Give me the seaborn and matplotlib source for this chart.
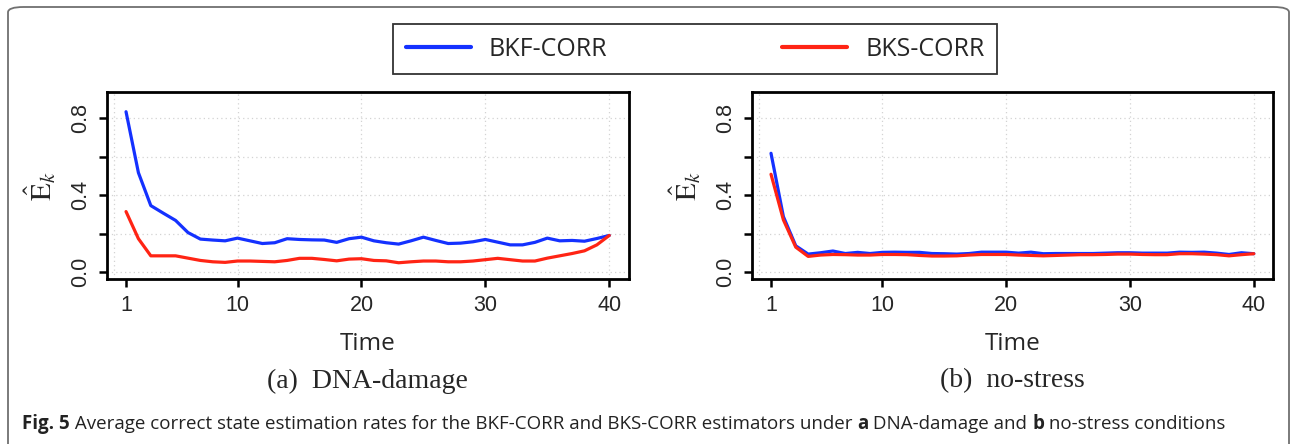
import numpy as np
import pandas as pd
import matplotlib
matplotlib.use("Agg")
import matplotlib.pyplot as plt
from matplotlib.patches import FancyBboxPatch
from matplotlib.lines import Line2D
import seaborn as sns

# --------------------------
# Datos
# --------------------------
time = list(range(1, 41))

dna_bkf = [0.835, 0.518, 0.347, 0.308, 0.270, 0.207, 0.173, 0.168, 0.164, 0.178,
           0.164, 0.150, 0.154, 0.175, 0.171, 0.169, 0.168, 0.156, 0.175, 0.183,
           0.164, 0.154, 0.147, 0.164, 0.183, 0.166, 0.150, 0.152, 0.159, 0.171,
           0.157, 0.143, 0.143, 0.156, 0.178, 0.164, 0.166, 0.162, 0.176, 0.192]
dna_bks = [0.316, 0.175, 0.086, 0.086, 0.086, 0.074, 0.062, 0.055, 0.052, 0.059,
           0.059, 0.057, 0.055, 0.062, 0.073, 0.073, 0.067, 0.060, 0.069, 0.071,
           0.062, 0.060, 0.050, 0.055, 0.059, 0.059, 0.055, 0.055, 0.059, 0.066,
           0.073, 0.066, 0.059, 0.059, 0.074, 0.086, 0.098, 0.112, 0.143, 0.192]

ns_bkf = [0.619, 0.290, 0.138, 0.095, 0.102, 0.111, 0.098, 0.104, 0.098, 0.104,
          0.105, 0.104, 0.104, 0.098, 0.097, 0.095, 0.098, 0.105, 0.105, 0.105,
          0.100, 0.105, 0.097, 0.098, 0.098, 0.098, 0.098, 0.100, 0.102, 0.102,
          0.100, 0.100, 0.100, 0.105, 0.104, 0.105, 0.100, 0.093, 0.102, 0.097]
ns_bks = [0.510, 0.273, 0.131, 0.083, 0.090, 0.093, 0.092, 0.090, 0.090, 0.093,
          0.093, 0.092, 0.088, 0.085, 0.085, 0.086, 0.090, 0.093, 0.093, 0.093,
          0.090, 0.088, 0.086, 0.088, 0.090, 0.092, 0.092, 0.093, 0.095, 0.095,
          0.093, 0.092, 0.092, 0.097, 0.097, 0.095, 0.092, 0.086, 0.092, 0.097]

estimators = ["BKF-CORR", "BKS-CORR"]
colors = {"BKF-CORR": "#1431ff", "BKS-CORR": "#ff2414"}
xticks = [1, 10, 20, 30, 40]
yticks = [0.0, 0.2, 0.4, 0.6, 0.8]
ytick_labels = ["0.0", "", "0.4", "", "0.8"]
subcaptions = ["(a)  DNA-damage", "(b)  no-stress"]


def to_long(bkf, bks):
    return pd.DataFrame({
        "Time": time * 2,
        "E": bkf + bks,
        "Estimador": [estimators[0]] * len(time) + [estimators[1]] * len(time),
    })


sns.set_style("white")
plt.rcParams["font.family"] = ["Liberation Sans", "DejaVu Sans"]
plt.rcParams["mathtext.fontset"] = "stix"

W, H = 1294, 444
fig = plt.figure(figsize=(W / 100, H / 100), dpi=100)


def fx(px):
    return px / W


def fy(py):
    return 1 - py / H


# marco redondeado de la figura
frame = FancyBboxPatch((fx(8), fy(470)), fx(1289) - fx(8), fy(7) - fy(470),
                       boxstyle="round,pad=0,rounding_size=0.012",
                       transform=fig.transFigure, fill=False,
                       edgecolor="#707070", linewidth=1.3, clip_on=False)
fig.patches.append(frame)

panels = [
    (to_long(dna_bkf, dna_bks), 106.7, 628.6),
    (to_long(ns_bkf, ns_bks), 751.7, 1273.1),
]

for (df, x0, x1), sub in zip(panels, subcaptions):
    ax = fig.add_axes([fx(x0), fy(279.3), fx(x1) - fx(x0), fy(92.3) - fy(279.3)])
    # grid punteada estilo R
    for gx in [0, 10, 20, 30, 40]:
        ax.axvline(gx, color="#d3d3d3", lw=0.9, ls=(0, (1, 2.5)), zorder=0)
    for gy in yticks:
        ax.axhline(gy, color="#d3d3d3", lw=0.9, ls=(0, (1, 2.5)), zorder=0)
    sns.lineplot(data=df, x="Time", y="E", hue="Estimador", palette=colors,
                 linewidth=2.3, legend=False, ax=ax)
    ax.set_xlim(1 - 1.56, 40 + 1.56)
    ax.set_ylim(-0.036, 0.936)
    ax.set_xticks(xticks)
    ax.set_xticklabels([str(t) for t in xticks], fontsize=15.5)
    ax.set_yticks(yticks)
    ax.set_yticklabels(ytick_labels, fontsize=15.5, rotation=90, va="center")
    ax.tick_params(axis="both", direction="out", length=6, width=1.8,
                   color="black", pad=5, bottom=True, left=True)
    for s in ax.spines.values():
        s.set_color("black")
        s.set_linewidth(2.0)
    ax.set_xlabel("Time", fontsize=17.5, family=["Open Sans", "DejaVu Sans"],
                  labelpad=12)
    ax.set_ylabel(r"$\hat{\mathrm{E}}_k$", fontsize=21, labelpad=9)
    fig.text((fx(x0) + fx(x1)) / 2, fy(381), sub, ha="center", va="center",
             fontsize=20, family=["Liberation Serif", "DejaVu Serif"])

# leyenda compartida
handles = [Line2D([], [], color=colors[e], lw=3) for e in estimators]
leg = fig.legend(handles, estimators, loc="center", ncol=2,
                 bbox_to_anchor=(fx(695), fy(49.5)), frameon=True, fancybox=False,
                 edgecolor="black", handlelength=2.6, columnspacing=7.0,
                 borderpad=0.5, handletextpad=0.72,
                 prop={"family": ["Open Sans", "DejaVu Sans"], "size": 18})
leg.get_frame().set_linewidth(1.3)

# pie de figura con partes en negrita
caption = [
    ("Fig. 5", "bold"), (" Average correct state estimation rates for the BKF-CORR and "
                         "BKS-CORR estimators under ", "normal"),
    ("a", "bold"), (" DNA-damage and ", "normal"), ("b", "bold"),
    (" no-stress conditions", "normal"),
]
renderer = fig.canvas.get_renderer()
xpos = fx(22)
for txt, weight in caption:
    t = fig.text(xpos, fy(424), txt, ha="left", va="center", fontsize=13.5,
                 weight=weight, family=["Open Sans", "DejaVu Sans"], color="#222222")
    bb = t.get_window_extent(renderer=renderer)
    xpos += bb.width / W

fig.savefig("out.png", dpi=100)
